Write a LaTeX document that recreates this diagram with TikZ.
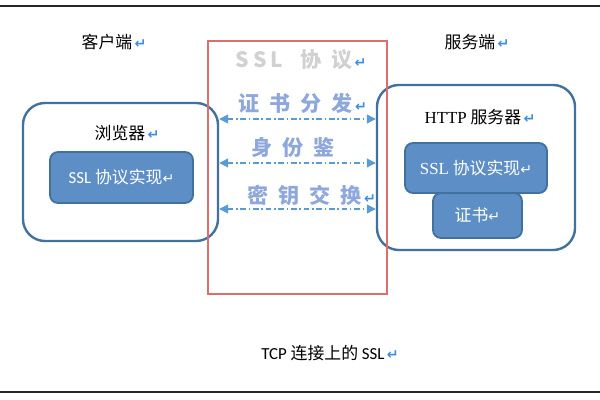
\documentclass[tikz,border=0pt]{standalone}
\usepackage{fontspec}
\setmainfont{Liberation Serif}
\newfontfamily\cjk{Noto Sans CJK SC}
\newfontfamily\calib{Carlito}
\newfontfamily\symb{DejaVu Sans}
\usetikzlibrary{arrows.meta}
\definecolor{boxline}{RGB}{65,113,156}
\definecolor{boxfill}{RGB}{93,142,197}
\definecolor{arrblue}{RGB}{91,155,213}
\definecolor{markblue}{RGB}{60,140,230}
\definecolor{wordblue}{RGB}{142,168,220}
\definecolor{redline}{RGB}{222,110,110}
\newcommand{\twelve}{\fontsize{12}{14}\selectfont}
\newcommand{\pmark}{{\symb\bfseries\color{markblue}\fontsize{10}{10}\selectfont\,↵}}
\newcommand{\wmark}{{\symb\color{white}\fontsize{10}{10}\selectfont ↵}}
\newcommand{\gap}{\hspace{7pt}}

\begin{document}
\begin{tikzpicture}[x=0.025cm, y=-0.025cm,
    font=\cjk\twelve,
    outerbox/.style={draw=boxline, line width=1.7pt, rounded corners=0.55cm},
    innerbox/.style={draw=boxline, fill=boxfill, line width=1.3pt,
      rounded corners=0.2cm, text=white},
    word/.style={font=\cjk\bfseries\fontsize{15}{17}\selectfont, text=wordblue, inner sep=0pt},
    arr/.style={{Triangle[length=2.2mm,width=2.2mm]}-{Triangle[length=2.2mm,width=2.2mm]},
      arrblue, line width=0.8pt, dash pattern=on 4pt off 2pt on 1pt off 2pt}]

  \useasboundingbox (0,0) rectangle (600,400);
  \draw[line width=1.2pt, black!85] (0,6) -- (600,6);
  \draw[line width=1.2pt, black!85] (0,392) -- (600,392);

  \node (ck) at (114,42) {客户端\pmark};
  \node (sk) at (477,42) {服务端\pmark};

  % client and server
  \node[outerbox, minimum width=4.875cm, minimum height=3.45cm] (cli) at (120.5,172) {};
  \node (br) at (127,133) {浏览器\pmark};
  \node[innerbox, minimum width=3.575cm, minimum height=1.275cm] (cssl) at (121.5,177.5)
    {{\calib SSL} 协议实现\wmark};

  \node[outerbox, minimum width=4.95cm, minimum height=4.125cm] (srv) at (476,167.5) {};
  \node (hs) at (480,117) {{\rmfamily HTTP} 服务器\pmark};
  \node[innerbox, minimum width=3.55cm, minimum height=1.25cm] (sssl) at (476,168)
    {{\rmfamily SSL} 协议实现\wmark};
  \node[innerbox, minimum width=2.225cm, minimum height=1.125cm] (cert) at (477.5,215.5)
    {证书\wmark};

  % protocol
  \draw[redline, line width=0.8pt] (208,41) rectangle (387,294);
  \node[word, text=black!18] (title) at (301,60)
    {S\hspace{3pt}S\hspace{3pt}L\hspace{12pt}协\gap 议\pmark};
  \node[word] (w1) at (303,103) {证\gap 书\gap 分\gap 发\pmark};
  \node[word] (w2) at (293,148) {身\gap 份\gap 鉴};
  \node[word] (w3) at (312,195) {密\gap 钥\gap 交\gap 换\pmark};

  \foreach \y in {119,163,209}
    \draw[arr] (cli.east |- 0,\y) -- (srv.west |- 0,\y);

  \node (tcp) at (330,353) {{\calib TCP} 连接上的 {\calib SSL}\pmark};
\end{tikzpicture}
\end{document}
